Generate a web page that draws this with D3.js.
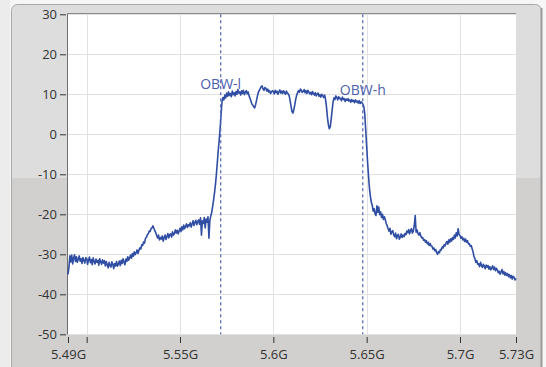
<!DOCTYPE html>
<html>
<head>
<meta charset="utf-8">
<script src="https://cdn.jsdelivr.net/npm/d3@7"></script>
<style>
  body { margin: 0; background: #f6f6f6; }
  svg { display: block; }
</style>
</head>
<body>
<div id="chart"></div>
<script>
// spectrum trace, one reading every 0.5 MHz from 5.490 GHz (one row = 10 MHz)
var freqStart = 5.49;
var freqStep = 0.0005;
var level = [
  -35.0, -33.2, -30.4, -31.9, -30.2, -32.4, -31.0, -30.1, -31.8, -30.6, -32.0, -31.2, -30.4, -31.7, -31.1, -32.3, -30.8, -31.5, -32.2, -30.9,
  -31.0, -32.5, -31.4, -30.7, -32.1, -31.3, -32.6, -30.9, -31.8, -32.4, -31.2, -32.0, -31.5, -32.7, -31.1, -31.9, -32.5, -31.4, -32.2, -31.6,
  -32.9, -31.8, -32.6, -33.4, -32.0, -32.8, -33.2, -31.9, -32.5, -33.6, -32.3, -32.9, -31.8, -33.0, -32.4, -31.7, -32.8, -31.5, -32.3, -31.1,
  -31.9, -32.6, -31.2, -31.8, -30.6, -31.5, -30.9, -30.2, -31.0, -29.8, -30.5, -29.4, -30.1, -29.6, -28.9, -29.8, -29.0, -28.4, -28.7, -27.6,
  -27.8, -26.9, -27.2, -26.0, -25.8, -25.1, -24.9, -24.2, -24.3, -23.6, -23.4, -22.9, -23.5, -24.1, -24.6, -25.3, -25.9, -25.2, -26.4, -25.8,
  -26.2, -25.4, -26.7, -25.8, -25.2, -26.3, -25.6, -24.8, -25.9, -25.1, -24.9, -25.7, -24.4, -25.2, -24.8, -23.9, -24.7, -24.0, -24.9, -24.2,
  -23.5, -24.3, -23.1, -23.9, -22.7, -23.6, -23.0, -22.4, -23.3, -22.6, -22.9, -22.1, -23.2, -22.4, -21.6, -22.8, -22.0, -21.5, -22.6, -21.8,
  -21.4, -22.5, -20.9, -25.2, -21.6, -22.3, -20.8, -23.4, -21.2, -22.0, -20.6, -26.0, -21.5, -20.4, -19.5, -18.0, -16.4, -14.6, -12.5, -10.0,
  -7.0, -4.0, -1.5, 1.5, 5.0, 8.2, 9.2, 8.6, 9.8, 9.1, 10.3, 9.5, 10.6, 9.7, 10.2, 9.4, 10.8, 9.9, 10.4, 9.6,
  10.7, 10.0, 11.2, 10.3, 10.6, 9.8, 10.9, 10.2, 11.0, 9.9, 10.5, 10.9, 10.1, 10.6, 9.6, 9.0, 8.3, 7.6, 7.3, 6.9,
  6.6, 7.4, 8.5, 9.6, 10.5, 11.0, 11.4, 11.9, 12.1, 11.3, 11.0, 11.7, 11.5, 10.8, 11.3, 10.6, 10.9, 10.2, 10.6, 10.9,
  10.7, 10.1, 11.0, 10.4, 10.8, 10.0, 10.6, 11.1, 10.3, 10.8, 10.2, 10.9, 10.5, 10.0, 10.8, 10.3, 10.1, 9.6, 8.4, 7.0,
  5.7, 5.3, 6.2, 7.4, 8.8, 9.8, 10.4, 10.9, 10.5, 11.3, 11.0, 10.5, 10.7, 11.2, 10.4, 10.9, 10.2, 11.0, 10.6, 10.1,
  10.5, 9.9, 10.7, 10.2, 9.8, 10.4, 9.6, 10.1, 10.3, 9.5, 9.9, 9.3, 10.0, 9.6, 9.2, 9.8, 8.6, 6.8, 4.2, 2.4,
  1.4, 1.9, 3.8, 6.0, 8.1, 9.1, 8.7, 9.6, 9.2, 8.6, 9.4, 8.9, 9.0, 8.4, 9.3, 8.7, 8.9, 8.2, 8.8, 8.5,
  8.9, 8.3, 8.6, 8.0, 8.7, 8.2, 8.5, 7.9, 8.6, 8.1, 8.3, 7.8, 8.4, 7.7, 8.1, 7.9, 7.5, 6.9, 5.0, 1.0,
  -3.0, -7.0, -10.5, -13.5, -15.5, -17.0, -17.8, -19.2, -18.6, -19.9, -20.3, -17.9, -19.5, -18.2, -20.1, -19.4, -20.8, -20.0, -21.3, -20.6,
  -21.4, -22.3, -22.9, -23.6, -24.2, -23.5, -25.0, -24.3, -24.1, -25.2, -25.6, -24.7, -26.1, -25.3, -25.0, -26.2, -25.7, -24.9, -25.8, -25.2,
  -25.6, -24.8, -25.1, -24.2, -24.6, -23.8, -24.9, -24.1, -23.6, -24.7, -24.2, -22.8, -20.3, -24.5, -23.9, -24.8, -25.2, -24.6, -25.4, -25.9,
  -25.8, -26.5, -26.3, -27.0, -26.6, -27.4, -27.0, -27.8, -27.3, -27.9, -28.0, -28.7, -28.4, -29.1, -28.8, -29.6, -30.0, -29.3, -29.6, -28.8,
  -28.9, -28.1, -28.4, -27.6, -27.9, -27.2, -26.8, -27.5, -26.4, -27.0, -26.1, -26.7, -25.8, -26.3, -25.2, -25.9, -24.6, -25.4, -23.6, -25.1,
  -25.3, -26.0, -25.6, -26.4, -26.0, -26.8, -26.2, -27.0, -26.6, -27.4, -27.3, -28.0, -27.8, -28.6, -29.4, -30.6, -31.1, -32.0, -31.6, -32.5,
  -32.4, -33.1, -32.0, -32.8, -33.3, -32.5, -32.9, -33.6, -32.7, -33.2, -32.8, -33.7, -33.1, -33.9, -33.4, -32.9, -33.8, -33.2, -34.1, -33.5,
  -33.9, -34.6, -34.2, -35.0, -34.4, -33.8, -34.9, -34.3, -35.2, -34.6, -35.3, -34.8, -35.6, -35.1, -35.9, -35.3, -36.2, -35.5, -35.8, -36.4,
  -36.0
];

var yTicks = [30, 20, 10, 0, -10, -20, -30, -40, -50];
var xTicks = [5.49, 5.5, 5.55, 5.6, 5.65, 5.7, 5.73];
var xTickLabels = ["5.49G", "", "5.55G", "5.6G", "5.65G", "5.7G", "5.73G"];
var xGrid = [5.5, 5.55, 5.6, 5.65, 5.7];

var markerNames = ["OBW-l", "OBW-h"];
var markerFreqs = [5.5718, 5.6479];
var markerLabelLevels = [11.3, 9.8];

var width = 546, height = 367;
var plot = {left: 68, right: 516, top: 14.3, bottom: 334.3};

var svg = d3.select("#chart").append("svg")
  .attr("width", width)
  .attr("height", height);

// panel frame
svg.append("rect")
  .attr("x", 0).attr("y", 0).attr("width", 10).attr("height", height)
  .attr("fill", "#ececec");
svg.append("rect")
  .attr("x", 11.5).attr("y", 4.5).attr("width", 530).attr("height", 380)
  .attr("rx", 6)
  .attr("fill", "#dddddd")
  .attr("stroke", "#a9a9a9");
svg.append("rect")
  .attr("x", 12).attr("y", 178).attr("width", 529).attr("height", 200)
  .attr("fill", "#d1d0ce");
svg.append("line")
  .attr("x1", 541.5).attr("x2", 541.5).attr("y1", 8).attr("y2", height)
  .attr("stroke", "#9a9a9a").attr("stroke-width", 2);

var x = d3.scaleLinear().domain([5.49, 5.73]).range([plot.left, plot.right]);
var y = d3.scaleLinear().domain([-50, 30]).range([plot.bottom, plot.top]);

svg.append("rect")
  .attr("x", plot.left).attr("y", plot.top)
  .attr("width", plot.right - plot.left).attr("height", plot.bottom - plot.top)
  .attr("fill", "#ffffff");

var grid = svg.append("g").attr("stroke", "#e2e2e2").attr("stroke-width", 1);
grid.selectAll(".hg").data(yTicks).enter().append("line")
  .attr("x1", plot.left).attr("x2", plot.right)
  .attr("y1", d => Math.round(y(d)) + 0.5).attr("y2", d => Math.round(y(d)) + 0.5);
grid.selectAll(".vg").data(xGrid).enter().append("line")
  .attr("y1", plot.top).attr("y2", plot.bottom)
  .attr("x1", d => Math.round(x(d)) + 0.5).attr("x2", d => Math.round(x(d)) + 0.5);

// inset border, top and left
svg.append("line")
  .attr("x1", plot.left - 0.5).attr("x2", plot.right).attr("y1", 13.5).attr("y2", 13.5)
  .attr("stroke", "#8a8a8a");
svg.append("line")
  .attr("x1", 67.5).attr("x2", 67.5).attr("y1", 13.5).attr("y2", plot.bottom)
  .attr("stroke", "#6e6e6e");

// axes
var yaxis = d3.axisLeft(y).tickValues(yTicks).tickSize(6).tickPadding(3)
  .tickFormat(d => String(d));
var gy = svg.append("g").attr("transform", "translate(66,0)").call(yaxis);
var xaxis = d3.axisBottom(x).tickValues(xTicks).tickSize(6).tickPadding(7)
  .tickFormat((d, i) => xTickLabels[i]);
var gx = svg.append("g").attr("transform", "translate(0,337)").call(xaxis);
[gx, gy].forEach(g => {
  g.select(".domain").remove();
  g.selectAll(".tick line").attr("stroke", "#333");
  g.selectAll(".tick text")
    .attr("fill", "#333")
    .style("font-family", "'Open Sans', sans-serif")
    .style("font-size", "13px");
});

// trace
var pts = level.map((v, i) => [freqStart + i * freqStep, v]);
var line = d3.line().x(d => x(d[0])).y(d => y(d[1]));
svg.append("path")
  .datum(pts)
  .attr("d", line)
  .attr("fill", "none")
  .attr("stroke", "#2f4da3")
  .attr("stroke-width", 1.6)
  .attr("stroke-linejoin", "round");

// OBW markers
markerFreqs.forEach((f, i) => {
  svg.append("line")
    .attr("x1", x(f)).attr("x2", x(f))
    .attr("y1", plot.top).attr("y2", plot.bottom)
    .attr("stroke", "#5b6fb8")
    .attr("stroke-width", 1.3)
    .attr("stroke-dasharray", "3,3");
  svg.append("text")
    .attr("x", x(f)).attr("y", y(markerLabelLevels[i]))
    .attr("text-anchor", "middle")
    .attr("fill", "#4b5eae")
    .style("font-family", "'Open Sans', sans-serif")
    .style("font-size", "14px")
    .text(markerNames[i]);
});
</script>
</body>
</html>
